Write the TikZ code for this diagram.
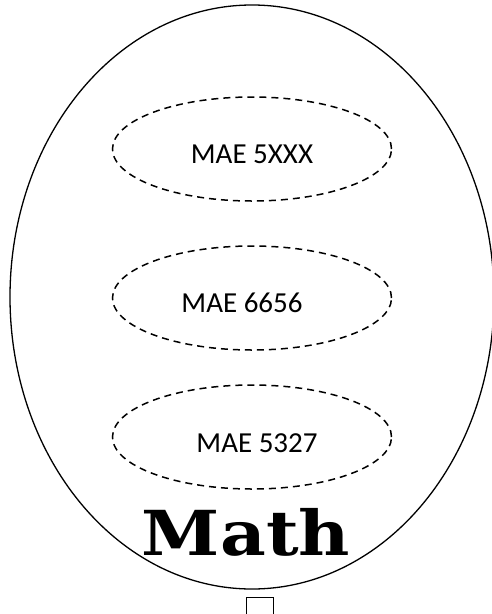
\documentclass[tikz,border=0pt]{standalone}
\usepackage{fontspec}
\setmainfont{Carlito}
\newfontfamily\mathfont{DejaVu Serif}
\usetikzlibrary{
    positioning, % relative placement
    shapes.geometric % ellipse nodes
}

\begin{document}
\begin{tikzpicture}[
    x=1pt, y=-1pt,
    outer/.style={
        draw=black,
        ellipse,
        line width=1.3pt,
        minimum width=484pt,
        minimum height=584pt,
        inner sep=0pt
    },
    course/.style={
        draw=black,
        ellipse,
        dash pattern=on 7pt off 5pt,
        line width=1.5pt,
        minimum width=279pt,
        minimum height=104pt,
        inner sep=0pt
    },
    coursename/.style={
        inner sep=0pt,
        font=\fontsize{29}{34}\selectfont
    },
    title/.style={
        font=\mathfont\bfseries\fontsize{62}{70}\selectfont,
        xscale=1.14,
        inner sep=0pt,
        anchor=base
    },
    stub/.style={
        draw=black,
        line width=1pt,
        minimum size=27pt,
        inner sep=0pt
    }
]
\useasboundingbox (0,0) rectangle (491,614);

% Outer ellipse
\node[outer] (math) at (252,297) {};

% Courses
\node[course] (c5xxx) at (252,149) {};
\node[course] (c6656) at (252,298) {};
\node[course] (c5327) at (252,437) {};

\node[coursename] (n5xxx) at ([yshift=-5pt]c5xxx.center) {MAE 5XXX};
\node[coursename] (n6656) at ([xshift=-10pt,yshift=-5pt]c6656.center) {MAE 6656};
\node[coursename] (n5327) at ([xshift=5pt,yshift=-6pt]c5327.center) {MAE 5327};

% Label
\node[title] (mathlabel) at (246,555) {Math};

% Small box below
\node[stub] (box) at (259.5,611) {};

\end{tikzpicture}
\end{document}
